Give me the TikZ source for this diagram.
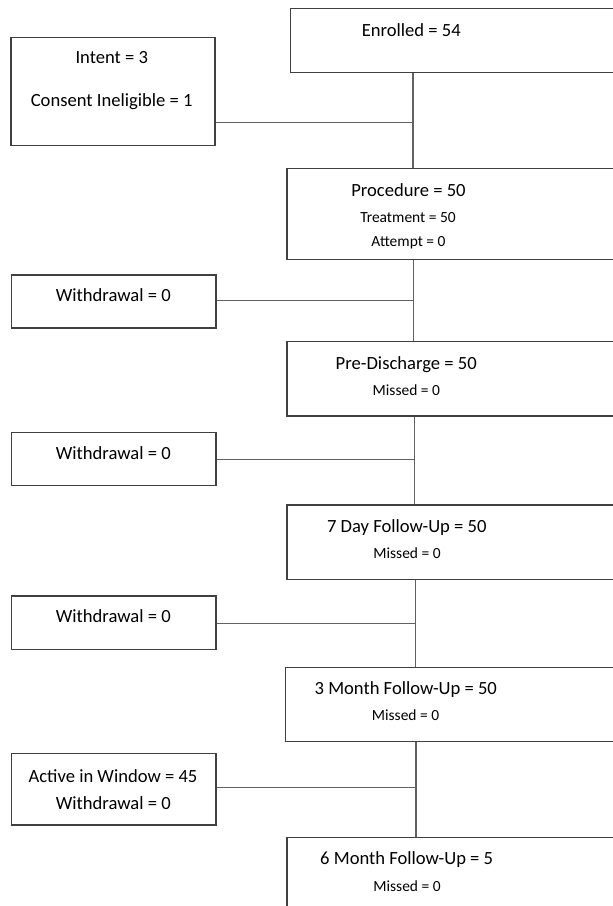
\documentclass[tikz,border=0pt]{standalone}
\usepackage{fontspec}
\setmainfont{Carlito}
\begin{document}
\begin{tikzpicture}[x=0.75pt,y=-0.75pt,
  box/.style={draw=black!75,line width=1.1pt,rectangle,inner sep=0pt},
  conn/.style={draw=black!62,line width=0.85pt},
  big/.style={inner sep=0pt,anchor=base,font=\fontsize{13.95pt}{16pt}\selectfont},
  small/.style={inner sep=0pt,anchor=base,font=\fontsize{11.6pt}{14pt}\selectfont}]
\useasboundingbox (0,0) rectangle (613,906);
\fill[white] (0,0) rectangle (613,906);
\clip (0,0) rectangle (613,906);

% right column boxes (extend past the right edge)
\node[box,minimum width=349.3*0.75pt,minimum height=64.4*0.75pt] (enr) at (465.35,40.5) {};
\node[box,minimum width=353*0.75pt,minimum height=91*0.75pt] (proc) at (463.5,213.8) {};
\node[box,minimum width=353*0.75pt,minimum height=74.3*0.75pt] (pred) at (463.5,378.85) {};
\node[box,minimum width=353*0.75pt,minimum height=74.3*0.75pt] (d7) at (463.5,542.15) {};
\node[box,minimum width=354.3*0.75pt,minimum height=74*0.75pt] (m3) at (462.85,704.3) {};
\node[box,minimum width=353*0.75pt,minimum height=100*0.75pt] (m6) at (463.5,887.3) {};

% left column boxes
\node[box,minimum width=204*0.75pt,minimum height=108.4*0.75pt] (intent) at (113,91.5) {};
\node[box,minimum width=204.3*0.75pt,minimum height=53*0.75pt] (w1) at (113.85,301.5) {};
\node[box,minimum width=204.3*0.75pt,minimum height=53.4*0.75pt] (w2) at (113.85,459) {};
\node[box,minimum width=204.3*0.75pt,minimum height=53.3*0.75pt] (w3) at (113.85,622.65) {};
\node[box,minimum width=204.3*0.75pt,minimum height=71.3*0.75pt] (act) at (113.85,789.35) {};

% texts
\node[big] (tenr) at (411.3,36.7) {Enrolled = 54};
\node[big] (tint1) at (111.8,64) {Intent = 3};
\node[big] (tint2) at (111.7,106) {Consent Ineligible = 1};
\node[big] (tproc) at (408.5,196.7) {Procedure = 50};
\node[small] (ttreat) at (408,222) {Treatment = 50};
\node[small] (tatt) at (408.5,246.7) {Attempt = 0};
\node[big] (tw1) at (113.3,301.5) {Withdrawal = 0};
\node[big] (tpred) at (406.2,369.3) {Pre-Discharge = 50};
\node[small] (tpredm) at (406.3,395.7) {Missed = 0};
\node[big] (tw2) at (113.3,459.3) {Withdrawal = 0};
\node[big] (td7) at (406.8,532.7) {7 Day Follow-Up = 50};
\node[small] (td7m) at (407,558.3) {Missed = 0};
\node[big] (tw3) at (113.3,622.7) {Withdrawal = 0};
\node[big] (tm3) at (405.8,694.3) {3 Month Follow-Up = 50};
\node[small] (tm3m) at (405.5,720) {Missed = 0};
\node[big] (tact1) at (113,782) {Active in Window = 45};
\node[big] (tact2) at (113.3,809.3) {Withdrawal = 0};
\node[big] (tm6) at (406.7,864.3) {6 Month Follow-Up = 5};
\node[small] (tm6m) at (407,891) {Missed = 0};

% spine junction coordinates
\coordinate (j1) at (413,122.3);
\coordinate (j2) at (413.7,300.5);
\coordinate (j3) at (414.7,459.7);
\coordinate (j4) at (415.3,623.3);
\coordinate (j5) at (416,787.7);

% vertical connectors
\draw[conn] (enr.south -| j1) -- (proc.north -| j1);
\draw[conn] (proc.south -| j2) -- (pred.north -| j2);
\draw[conn] (pred.south -| j3) -- (d7.north -| j3);
\draw[conn] (d7.south -| j4) -- (m3.north -| j4);
\draw[conn] (m3.south -| j5) -- (m6.north -| j5);

% horizontal connectors
\draw[conn] (intent.east |- j1) -- (j1);
\draw[conn] (w1.east |- j2) -- (j2);
\draw[conn] (w2.east |- j3) -- (j3);
\draw[conn] (w3.east |- j4) -- (j4);
\draw[conn] (act.east |- j5) -- (j5);
\end{tikzpicture}
\end{document}
